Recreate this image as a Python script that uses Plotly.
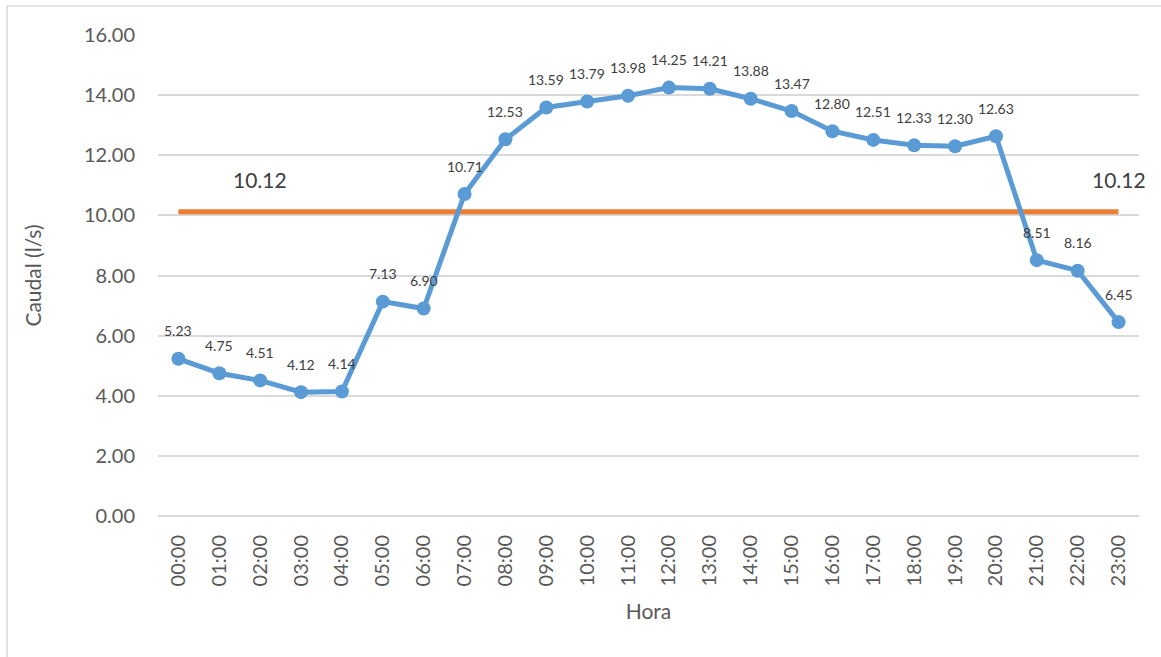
import plotly.graph_objects as go

horas = ["00:00","01:00","02:00","03:00","04:00","05:00","06:00","07:00","08:00","09:00",
         "10:00","11:00","12:00","13:00","14:00","15:00","16:00","17:00","18:00","19:00",
         "20:00","21:00","22:00","23:00"]
caudal = [5.23,4.75,4.51,4.12,4.14,7.13,6.90,10.71,12.53,13.59,13.79,13.98,14.25,14.21,
          13.88,13.47,12.80,12.51,12.33,12.30,12.63,8.51,8.16,6.45]
promedio = 10.12

W, H = 1161, 657
L, R, T, B = 158, 22, 35, 141
pw, ph = W - L - R, H - T - B
FONT = "Lato, Open Sans, sans-serif"

fig = go.Figure()
fig.add_trace(go.Scatter(
    x=horas, y=[promedio]*len(horas), mode="lines",
    line=dict(color="#ED7D31", width=5), hoverinfo="skip", showlegend=False))
fig.add_trace(go.Scatter(
    x=horas, y=caudal, mode="lines+markers",
    line=dict(color="#5B9BD5", width=5),
    marker=dict(color="#5B9BD5", size=14),
    showlegend=False))

for h, v in zip(horas, caudal):
    fig.add_annotation(x=h, y=v, text=f"{v:.2f}", showarrow=False, yshift=28,
                       font=dict(family=FONT, size=14, color="#404040"))

# average labels
fig.add_annotation(x=horas[2], y=promedio, text=f"{promedio:.2f}", showarrow=False,
                   yshift=32, font=dict(family=FONT, size=21, color="#404040"))
fig.add_annotation(x=horas[-1], y=promedio, text=f"{promedio:.2f}", showarrow=False,
                   yshift=32, font=dict(family=FONT, size=21, color="#404040"))

# chart border (left and top)
px_x = lambda v: (v - L) / pw
px_y = lambda v: (H - B - v) / ph
fig.add_shape(type="line", xref="paper", yref="paper", x0=px_x(7), x1=px_x(7),
              y0=px_y(6), y1=px_y(H + 5), line=dict(color="#D9D9D9", width=1.5))
fig.add_shape(type="line", xref="paper", yref="paper", x0=px_x(7), x1=px_x(W + 5),
              y0=px_y(6), y1=px_y(6), line=dict(color="#D9D9D9", width=1.5))

fig.update_layout(
    width=W, height=H, margin=dict(l=L, r=R, t=T, b=B, autoexpand=False),
    paper_bgcolor="white", plot_bgcolor="white",
    font=dict(family=FONT, color="#595959"),
    xaxis=dict(type="category", range=[-0.5, 23.5], tickangle=-90, showgrid=False,
               tickfont=dict(size=20, color="#595959"), ticks="", showline=False,
               ticklabelstandoff=14,
               title=dict(text="Hora", font=dict(size=21, color="#595959"), standoff=18)),
    yaxis=dict(range=[0, 16], dtick=2, tickformat=".2f", showgrid=True, gridcolor="#D9D9D9",
               gridwidth=1.5, zeroline=True, zerolinecolor="#D9D9D9", zerolinewidth=1.5,
               tickfont=dict(size=20, color="#595959"), ticks="", ticklabelstandoff=22,
               title=dict(text="Caudal (l/s)", font=dict(size=21, color="#595959"), standoff=36)),
)
fig.write_html("out.html", config={"displayModeBar": False},
               post_script="document.body.style.margin='0';document.body.style.overflow='hidden';")
